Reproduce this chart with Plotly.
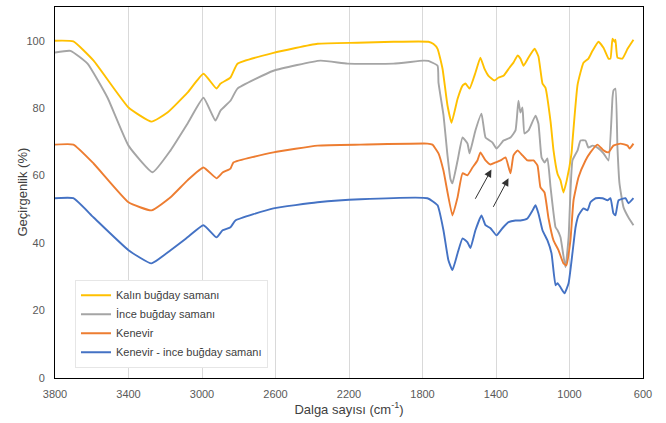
import plotly.graph_objects as go

# ---- data ----
kalin_wn = [3800, 3700, 3590, 3400, 3275, 3188, 3079, 2992, 2921, 2899, 2845, 2807, 2611, 2371, 2154,
            1958, 1768, 1740, 1718, 1691, 1664, 1642, 1609, 1582, 1566, 1544, 1512, 1485, 1463, 1441,
            1408, 1386, 1359, 1327, 1305, 1283, 1267, 1250, 1223, 1190, 1169, 1147, 1131, 1103, 1087,
            1065, 1049, 1033, 1015, 989, 984, 956, 924, 897, 875, 842, 815, 788, 777, 766, 755, 750,
            739, 712, 684, 652]
kalin_t = [100.0, 99.8, 94.1, 80.2, 76.0, 78.7, 84.6, 90.2, 85.8, 87.3, 89.1, 93.2, 96.4, 99.1, 99.4,
           99.7, 99.7, 99.0, 97.6, 91.7, 80.8, 75.7, 82.8, 86.7, 87.3, 85.8, 90.5, 95.0, 91.7, 89.6,
           88.2, 89.1, 89.6, 92.0, 93.5, 95.6, 94.7, 92.6, 95.0, 97.6, 95.3, 87.3, 86.1, 76.0, 67.5,
           60.5, 58.6, 55.0, 58.6, 66.6, 70.0, 87.0, 93.5, 94.7, 97.0, 99.7, 97.9, 94.7, 94.7, 100.6,
           99.7, 100.3, 95.0, 94.7, 97.6, 100.3]

ince_wn = [3800, 3716, 3623, 3514, 3400, 3269, 3171, 3079, 2992, 2927, 2899, 2845, 2807, 2611, 2355,
           2208, 1958, 1795, 1768, 1718, 1713, 1686, 1664, 1648, 1637, 1609, 1582, 1555, 1544, 1512,
           1479, 1457, 1419, 1397, 1359, 1321, 1294, 1278, 1267, 1256, 1245, 1223, 1185, 1169, 1152,
           1136, 1120, 1103, 1076, 1065, 1049, 1022, 1005, 984, 956, 940, 913, 897, 875, 848, 815,
           788, 766, 761, 750, 739, 728, 706, 679, 652]
ince_t = [96.5, 97.0, 93.2, 83.1, 68.9, 61.0, 67.5, 75.4, 83.1, 76.3, 79.3, 82.2, 85.8, 91.1, 94.1,
          93.2, 93.2, 94.1, 94.0, 92.6, 87.6, 78.0, 66.0, 59.0, 57.7, 64.5, 71.3, 69.5, 66.6, 73.4,
          78.4, 71.3, 69.8, 68.0, 70.4, 71.3, 73.4, 82.2, 78.7, 80.2, 72.5, 73.4, 77.8, 75.4, 65.4,
          63.9, 65.1, 56.5, 44.7, 43.8, 41.7, 32.8, 41.7, 64.5, 67.5, 70.4, 70.4, 68.3, 68.9, 68.3, 66.6,
          64.5, 83.1, 85.2, 85.8, 68.3, 57.7, 50.6, 47.6, 45.3]

kenevir_wn = [3800, 3700, 3590, 3400, 3275, 3171, 3079, 2992, 2921, 2888, 2845, 2829, 2611, 2371, 2137,
              1773, 1746, 1713, 1686, 1637, 1609, 1582, 1555, 1528, 1501, 1485, 1457, 1430, 1403, 1375,
              1348, 1321, 1305, 1283, 1256, 1229, 1196, 1174, 1158, 1136, 1114, 1087, 1060, 1033, 1017,
              995, 978, 951, 913, 886, 848, 815, 788, 761, 722, 684, 673, 652]
kenevir_t = [69.2, 69.2, 63.6, 52.1, 49.7, 53.6, 58.6, 62.4, 59.2, 60.9, 62.1, 63.9, 66.9, 68.9, 69.2,
             69.5, 69.2, 66.6, 61.5, 48.2, 53.6, 60.7, 60.1, 62.4, 64.5, 66.9, 64.5, 63.3, 63.9, 64.5,
             65.4, 60.7, 66.0, 67.5, 66.0, 64.5, 64.5, 63.0, 56.5, 55.0, 47.3, 40.8, 37.9, 34.0, 33.4,
             40.8, 52.7, 59.5, 64.5, 66.9, 69.2, 67.5, 66.9, 68.9, 69.5, 68.9, 68.0, 69.5]

karisim_wn = [3800, 3700, 3590, 3400, 3275, 3171, 3079, 2992, 2921, 2888, 2845, 2818, 2611, 2371, 2137,
              1773, 1718, 1686, 1659, 1637, 1609, 1582, 1555, 1539, 1512, 1479, 1457, 1430, 1397, 1365,
              1332, 1294, 1267, 1229, 1201, 1185, 1169, 1147, 1120, 1098, 1076, 1065, 1049, 1027, 1005,
              984, 967, 951, 924, 902, 886, 858, 820, 793, 777, 761, 750, 733, 695, 679, 652]
karisim_t = [53.3, 53.3, 47.6, 37.9, 34.0, 37.9, 41.7, 45.3, 41.7, 43.8, 44.7, 46.7, 50.3, 52.1, 53.0,
             53.3, 51.2, 43.8, 34.9, 32.0, 37.0, 41.4, 40.2, 38.5, 43.8, 48.2, 45.3, 44.4, 42.3, 44.4,
             46.2, 46.7, 46.7, 47.3, 49.7, 51.2, 48.8, 43.8, 40.8, 37.0, 27.5, 28.1, 26.9, 25.1, 28.1,
             37.0, 44.7, 48.2, 50.3, 49.7, 52.1, 53.3, 53.3, 52.7, 53.3, 48.8, 48.2, 52.7, 53.3, 51.8, 53.3]

series_names = ["Kalın buğday samanı", "İnce buğday samanı", "Kenevir", "Kenevir - ince buğday samanı"]
series_colors = ["#FFC000", "#A5A5A5", "#ED7D31", "#4472C4"]
x_ticks = [3800, 3400, 3000, 2600, 2200, 1800, 1400, 1000, 600]
y_ticks = [0, 20, 40, 60, 80, 100]

FONT = "Liberation Sans, Arial, sans-serif"

fig = go.Figure()
for name, color, xs, ys in zip(series_names, series_colors,
                               [kalin_wn, ince_wn, kenevir_wn, karisim_wn],
                               [kalin_t, ince_t, kenevir_t, karisim_t]):
    fig.add_trace(go.Scatter(x=xs, y=ys, mode="lines", name=name,
                             line=dict(color=color, width=1.9, shape="spline", smoothing=0.4)))

arrows = [((1517, 52.7), (1425, 61.8)), ((1419, 50.3), (1332, 59.2))]
for (tx, ty), (hx, hy) in arrows:
    fig.add_annotation(x=hx, y=hy, ax=tx, ay=ty, xref="x", yref="y", axref="x", ayref="y",
                       showarrow=True, arrowhead=2, arrowsize=1.5, arrowwidth=1,
                       arrowcolor="#333333", text="")

# y-axis title as a rotated annotation (sits close to the tick labels, as in the reference)
fig.add_annotation(text="Geçirgenlik (%)", xref="paper", yref="paper", x=-0.056, y=0.5,
                   xanchor="center", yanchor="middle", textangle=-90, showarrow=False,
                   font=dict(family=FONT, size=13, color="#404040"))

fig.update_layout(
    width=666, height=423,
    margin=dict(l=55, r=23, t=7, b=45, autoexpand=False),
    paper_bgcolor="white", plot_bgcolor="white",
    font=dict(family=FONT, size=11, color="#595959"),
    showlegend=True,
    legend=dict(x=0.034, y=0.265, xanchor="left", yanchor="top",
                bgcolor="white", bordercolor="#E6E6E6", borderwidth=1,
                font=dict(family=FONT, size=11, color="#404040"),
                tracegroupgap=0, itemwidth=30),
)
fig.update_xaxes(range=[3800, 600], tickvals=x_ticks, ticktext=[str(v) for v in x_ticks],
                 showgrid=True, gridcolor="#D9D9D9", gridwidth=1,
                 showline=True, linecolor="black", linewidth=1, mirror=True,
                 ticks="", zeroline=False, ticklabelstandoff=6, automargin=False,
                 title=dict(text="Dalga sayısı (cm<sup>-1</sup>)", font=dict(size=13, color="#404040"), standoff=4))
fig.update_yaxes(range=[0, 110], tickvals=y_ticks, showgrid=False,
                 showline=True, linecolor="black", linewidth=1, mirror=True,
                 ticks="", zeroline=False, ticklabelstandoff=7, automargin=False)

fig.write_html("out.html", config={"displayModeBar": False},
               post_script="document.body.style.margin='0';document.body.style.overflow='hidden';")
